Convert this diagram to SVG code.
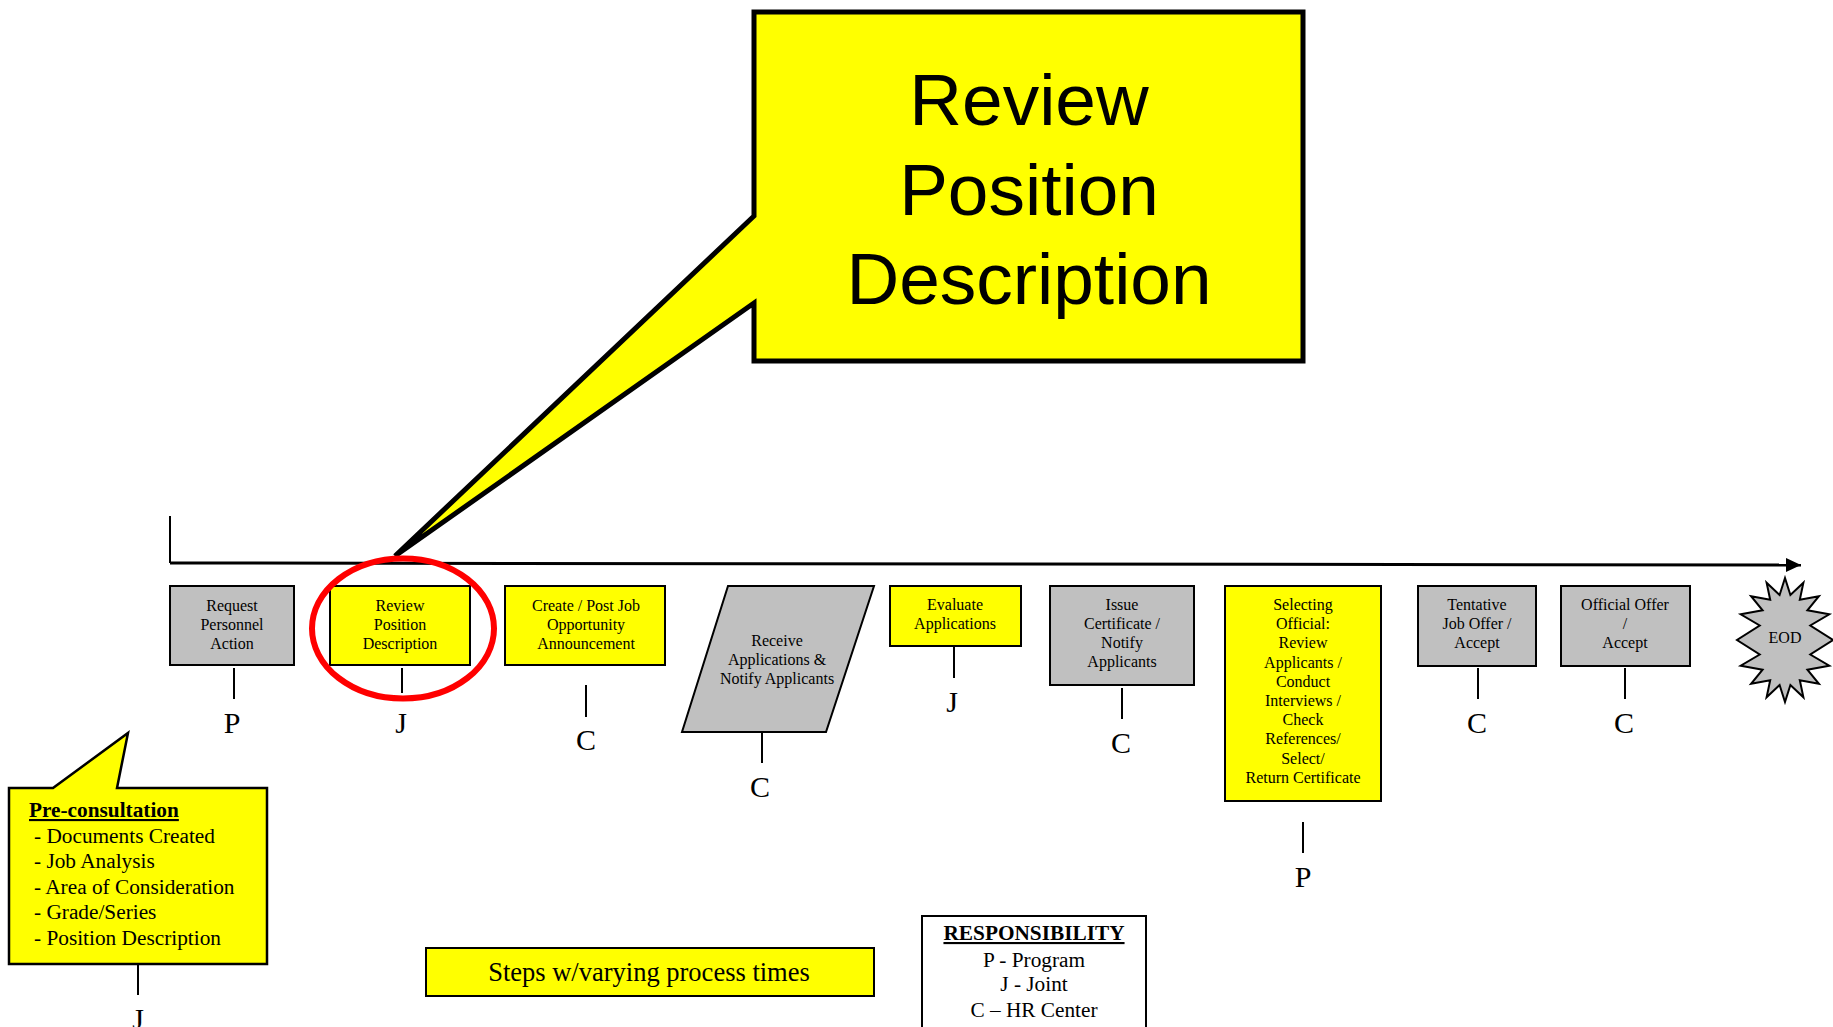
<svg xmlns="http://www.w3.org/2000/svg" width="1833" height="1027" viewBox="0 0 1833 1027">
<defs>
<style>
.box{stroke:#000;stroke-width:2}
.gray{fill:#C0C0C0}
.yel{fill:#FFFF00}
.lbl{font-family:"Liberation Serif","Times New Roman",serif;font-size:16px;text-anchor:middle;fill:#000}
.resp{font-family:"Liberation Serif","Times New Roman",serif;font-size:30px;text-anchor:middle;fill:#000}
.tick{stroke:#000;stroke-width:2;fill:none}
.leg{font-family:"Liberation Serif","Times New Roman",serif;font-size:21.3px;fill:#000}
</style>
<marker id="arr" markerWidth="15" markerHeight="14" refX="15" refY="7" orient="auto" markerUnits="userSpaceOnUse">
<path d="M0,0 L15,7 L0,14 Z" fill="#000"/>
</marker>
</defs>
<rect width="1833" height="1027" fill="#fff"/>

<g id="connectors">
<path class="tick" d="M170,516 V563" stroke-width="2.5"/>
<path d="M170,563 L1801,565" stroke="#000" stroke-width="3" marker-end="url(#arr)"/>
<path class="tick" d="M234,668 V699"/>
<path class="tick" d="M402,668 V693"/>
<path class="tick" d="M586,685 V717"/>
<path class="tick" d="M762,733 V763"/>
<path class="tick" d="M954,646 V678"/>
<path class="tick" d="M1122,688 V719"/>
<path class="tick" d="M1303,822 V853"/>
<path class="tick" d="M1478,668 V699"/>
<path class="tick" d="M1625,668 V699"/>
<path class="tick" d="M138,964 V995"/>
</g>

<g id="callout-big">
<path d="M754,12 H1303 V361 H754 V303 L395,556 L754,216 Z" fill="#FFFF00" stroke="#000" stroke-width="5" stroke-linejoin="miter"/>
<text x="1029" y="125" font-family="'Liberation Sans',Arial,sans-serif" font-size="73" text-anchor="middle">Review</text>
<text x="1029" y="215" font-family="'Liberation Sans',Arial,sans-serif" font-size="73" text-anchor="middle">Position</text>
<text x="1029" y="304" font-family="'Liberation Sans',Arial,sans-serif" font-size="73" text-anchor="middle">Description</text>
</g>

<g id="n-request">
<rect class="box gray" x="170" y="586" width="124" height="79"/>
<text class="lbl" x="232" y="611">Request</text>
<text class="lbl" x="232" y="630">Personnel</text>
<text class="lbl" x="232" y="649">Action</text>
<text class="resp" x="232" y="733">P</text>
</g>

<g id="n-review">
<rect class="box yel" x="330" y="586" width="140" height="79"/>
<text class="lbl" x="400" y="611">Review</text>
<text class="lbl" x="400" y="630">Position</text>
<text class="lbl" x="400" y="649">Description</text>
<text class="resp" x="401" y="733">J</text>
</g>

<g id="highlight">
<ellipse cx="403" cy="628.5" rx="91" ry="70" fill="none" stroke="#FF0000" stroke-width="6"/>
</g>

<g id="n-create">
<rect class="box yel" x="505" y="586" width="160" height="79"/>
<text class="lbl" x="586" y="611">Create / Post Job</text>
<text class="lbl" x="586" y="630">Opportunity</text>
<text class="lbl" x="586" y="649">Announcement</text>
<text class="resp" x="586" y="750">C</text>
</g>

<g id="n-receive">
<path class="box gray" d="M728,586 H874 L826,732 H682 Z"/>
<text class="lbl" x="777" y="646">Receive</text>
<text class="lbl" x="777" y="665">Applications &amp;</text>
<text class="lbl" x="777" y="684">Notify Applicants</text>
<text class="resp" x="760" y="797">C</text>
</g>

<g id="n-evaluate">
<rect class="box yel" x="890" y="586" width="131" height="60"/>
<text class="lbl" x="955" y="610">Evaluate</text>
<text class="lbl" x="955" y="629">Applications</text>
<text class="resp" x="952" y="712">J</text>
</g>

<g id="n-issue">
<rect class="box gray" x="1050" y="586" width="144" height="99"/>
<text class="lbl" x="1122" y="610">Issue</text>
<text class="lbl" x="1122" y="629">Certificate /</text>
<text class="lbl" x="1122" y="648">Notify</text>
<text class="lbl" x="1122" y="667">Applicants</text>
<text class="resp" x="1121" y="753">C</text>
</g>

<g id="n-selecting">
<rect class="box yel" x="1225" y="586" width="156" height="215"/>
<text class="lbl" x="1303" y="610">Selecting</text>
<text class="lbl" x="1303" y="629">Official:</text>
<text class="lbl" x="1303" y="648">Review</text>
<text class="lbl" x="1303" y="668">Applicants /</text>
<text class="lbl" x="1303" y="687">Conduct</text>
<text class="lbl" x="1303" y="706">Interviews /</text>
<text class="lbl" x="1303" y="725">Check</text>
<text class="lbl" x="1303" y="744">References/</text>
<text class="lbl" x="1303" y="764">Select/</text>
<text class="lbl" x="1303" y="783">Return Certificate</text>
<text class="resp" x="1303" y="887">P</text>
</g>

<g id="n-tentative">
<rect class="box gray" x="1418" y="586" width="118" height="80"/>
<text class="lbl" x="1477" y="610">Tentative</text>
<text class="lbl" x="1477" y="629">Job Offer /</text>
<text class="lbl" x="1477" y="648">Accept</text>
<text class="resp" x="1477" y="733">C</text>
</g>

<g id="n-official">
<rect class="box gray" x="1561" y="586" width="129" height="80"/>
<text class="lbl" x="1625" y="610">Official Offer</text>
<text class="lbl" x="1625" y="629">/</text>
<text class="lbl" x="1625" y="648">Accept</text>
<text class="resp" x="1624" y="733">C</text>
</g>

<g id="n-eod">
<path class="box gray" d="M1785.0,578.0 L1790.4,595.0 L1803.4,582.7 L1799.8,599.8 L1818.9,596.2 L1807.4,610.3 L1829.3,614.3 L1810.3,625.5 L1833.0,640.0 L1810.3,654.5 L1829.3,665.7 L1807.4,669.7 L1818.9,683.8 L1799.8,680.2 L1803.4,697.3 L1790.4,685.0 L1785.0,702.0 L1779.6,685.0 L1766.6,697.3 L1770.2,680.2 L1751.1,683.8 L1762.6,669.7 L1740.7,665.7 L1759.7,654.5 L1737.0,640.0 L1759.7,625.5 L1740.7,614.3 L1762.6,610.3 L1751.1,596.2 L1770.2,599.8 L1766.6,582.7 L1779.6,595.0 Z"/>
<text class="lbl" x="1785" y="643">EOD</text>
</g>

<g id="n-preconsult">
<path d="M9,788 H53 L128,733 L117,788 H267 V964 H9 Z" fill="#FFFF00" stroke="#000" stroke-width="2.5"/>
<text class="leg" x="29" y="817" font-weight="bold" text-decoration="underline">Pre-consultation</text>
<text class="leg" x="34" y="843"> - Documents Created</text>
<text class="leg" x="34" y="868"> - Job Analysis</text>
<text class="leg" x="34" y="894"> - Area of Consideration</text>
<text class="leg" x="34" y="919"> - Grade/Series</text>
<text class="leg" x="34" y="945"> - Position Description</text>
<text class="resp" x="138" y="1029">J</text>
</g>

<g id="legend-steps">
<rect class="box yel" x="426" y="948" width="448" height="48"/>
<text x="649" y="981" font-family="'Liberation Serif','Times New Roman',serif" font-size="26.5" text-anchor="middle">Steps w/varying process times</text>
</g>

<g id="legend-resp">
<rect x="922" y="916" width="224" height="130" fill="#fff" stroke="#000" stroke-width="2"/>
<text class="leg" x="1034" y="940" text-anchor="middle" font-weight="bold" text-decoration="underline">RESPONSIBILITY</text>
<text class="leg" x="1034" y="967" text-anchor="middle">P - Program</text>
<text class="leg" x="1034" y="991" text-anchor="middle">J - Joint</text>
<text class="leg" x="1034" y="1017" text-anchor="middle">C – HR Center</text>
</g>
</svg>
